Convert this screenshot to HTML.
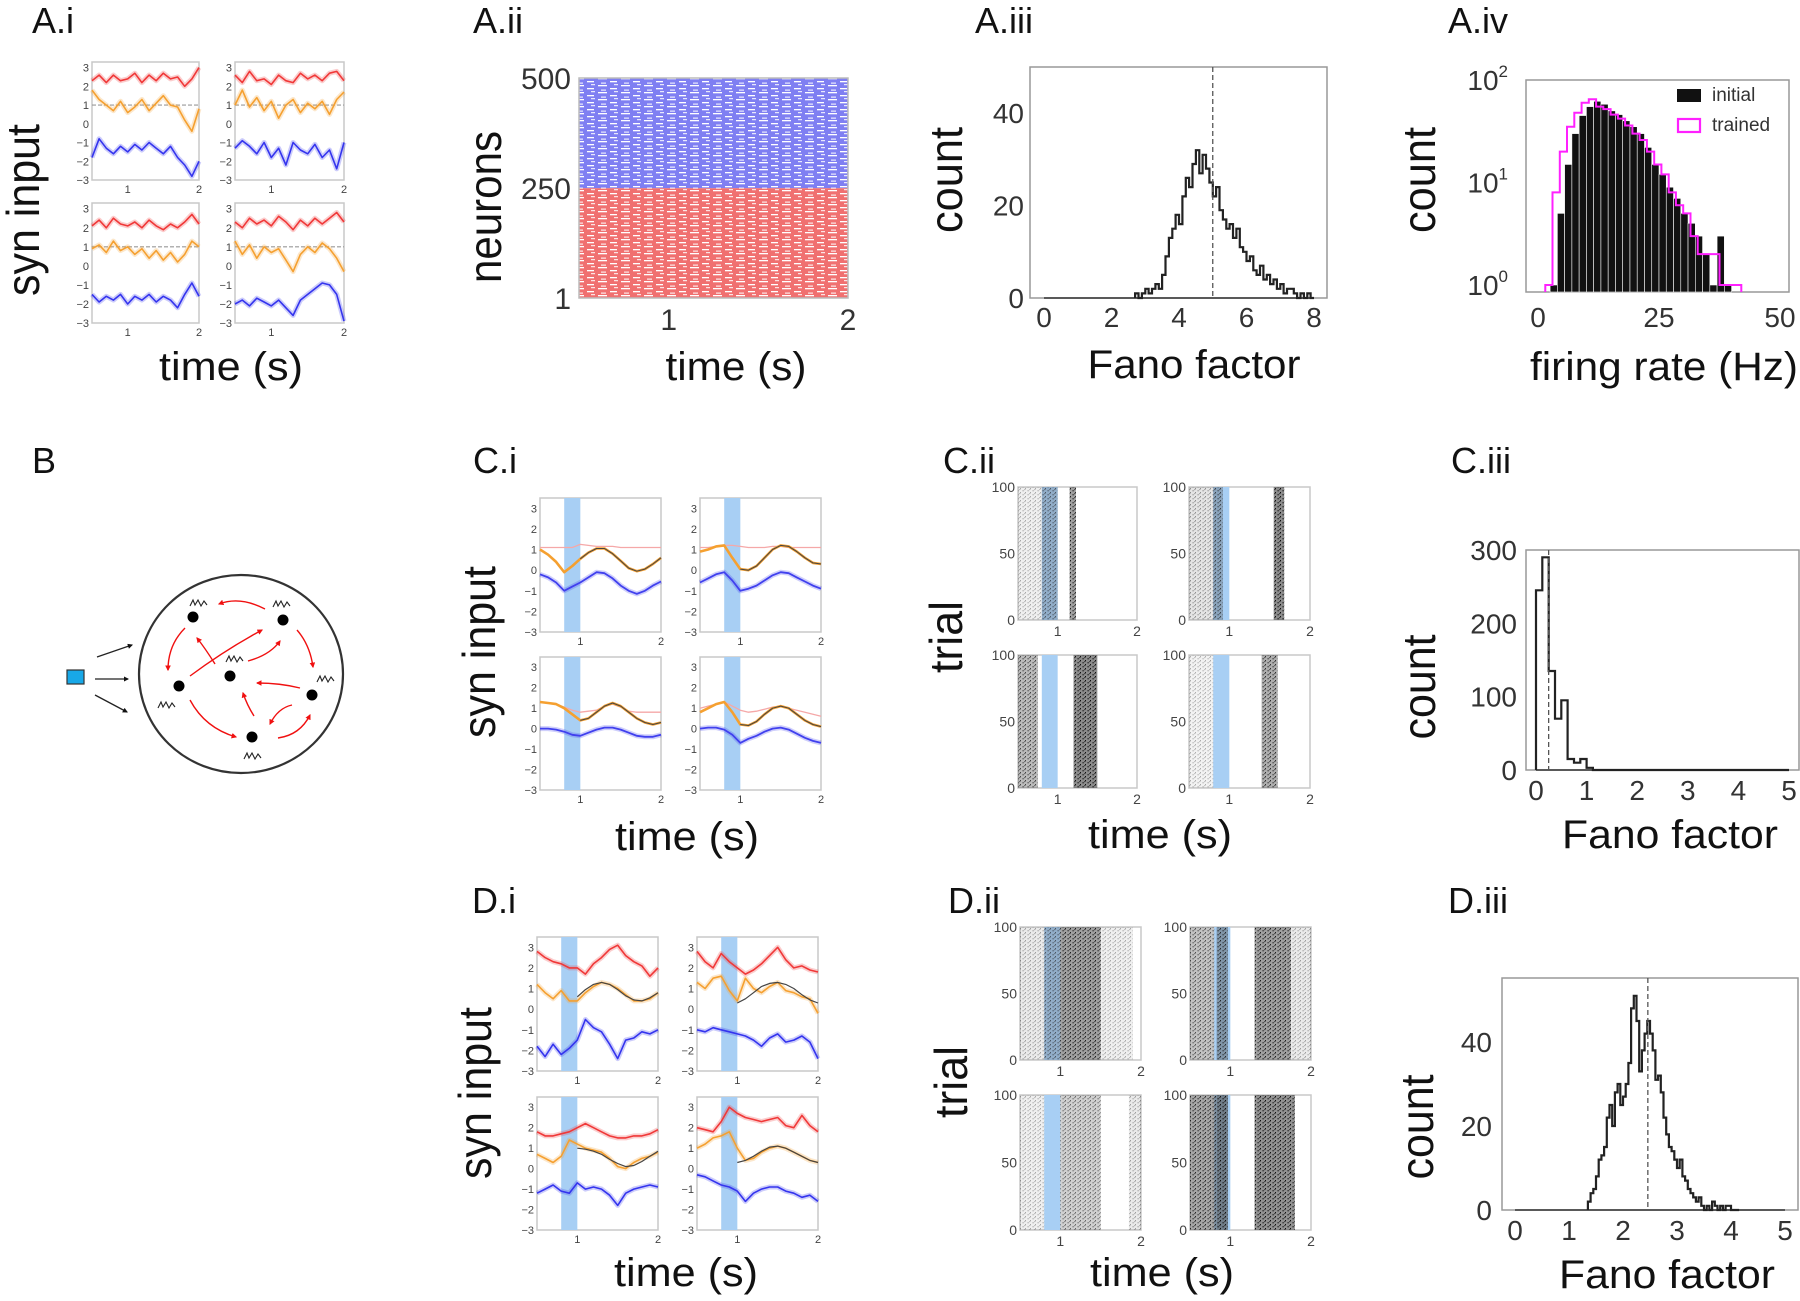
<!DOCTYPE html>
<html><head><meta charset="utf-8"><style>
html,body{margin:0;padding:0;background:#fff;}
svg{display:block;font-family:"Liberation Sans",Arial,sans-serif;}
</style></head><body>
<svg id="fig" width="1800" height="1301" viewBox="0 0 1800 1301" xmlns="http://www.w3.org/2000/svg">
<defs>
<pattern id="dashW" width="23" height="7" patternUnits="userSpaceOnUse"><rect x="0" y="1" width="9" height="1.3" fill="#fff"/><rect x="12" y="4" width="7" height="1.3" fill="#fff"/><rect x="3" y="5.6" width="5" height="1" fill="#fff"/><rect x="16" y="0.2" width="4" height="1" fill="#fff"/></pattern>
<pattern id="spk" width="5" height="4" patternUnits="userSpaceOnUse"><rect x="0" y="0" width="1" height="1.4" fill="#111"/><rect x="2.6" y="2" width="1" height="1.4" fill="#111"/><rect x="4" y="1" width="0.8" height="1.2" fill="#333"/></pattern>
<marker id="arR" viewBox="0 0 10 10" refX="8" refY="5" markerWidth="4" markerHeight="4" orient="auto"><path d="M0,0 L10,5 L0,10 z" fill="#f01010"/></marker>
<marker id="arK" viewBox="0 0 10 10" refX="8" refY="5" markerWidth="4" markerHeight="4" orient="auto"><path d="M0,0 L10,5 L0,10 z" fill="#111"/></marker>
</defs>
</svg>
<script>
// ---------- data ----------
const tsTimes = [0.5,0.6,0.7,0.8,0.9,1.0,1.1,1.2,1.3,1.4,1.5,1.6,1.7,1.8,1.9,2.0];
const targetTimes = [1.0,1.1,1.2,1.3,1.4,1.5,1.6,1.7,1.8,1.9,2.0];
const yTicksTS = [-3,-2,-1,0,1,2,3];
const xTicksTS = [1,2];
// A.i
const aiRedTL=[2.3,2.6,2.2,2.6,2.3,2.4,2.7,2.2,2.6,2.3,2.7,2.4,2.5,2.0,2.4,3.0];
const aiOrgTL=[1.8,1.3,1.0,0.7,1.2,0.6,0.9,1.3,0.7,1.1,1.5,1.0,0.9,0.2,-0.4,0.8];
const aiBluTL=[-1.8,-0.8,-1.3,-1.6,-1.2,-1.5,-1.1,-1.4,-1.0,-1.3,-1.6,-1.2,-1.8,-2.2,-2.8,-2.0];
const aiRedTR=[2.6,2.2,2.8,2.3,2.4,2.1,2.6,2.3,2.2,2.7,2.4,2.6,2.3,2.7,2.8,2.3];
const aiOrgTR=[1.0,1.8,0.9,1.4,0.7,1.2,0.3,1.0,1.3,0.6,1.1,0.8,1.2,0.5,1.3,1.7];
const aiBluTR=[-1.3,-0.9,-1.2,-1.6,-1.0,-1.8,-1.3,-2.2,-1.0,-1.4,-1.6,-1.1,-1.8,-1.4,-2.4,-1.0];
const aiRedBL=[2.1,2.4,2.0,2.5,2.2,2.1,2.3,2.0,2.4,2.1,1.9,2.2,2.0,2.3,2.7,2.2];
const aiOrgBL=[0.9,1.1,0.7,1.3,0.8,1.0,0.6,0.9,0.4,0.8,0.3,0.7,0.2,0.6,1.3,1.0];
const aiBluBL=[-1.5,-1.9,-1.6,-1.8,-1.5,-2.0,-1.6,-1.8,-1.5,-1.9,-1.6,-1.8,-2.2,-1.5,-0.9,-1.6];
const aiRedBR=[2.3,2.0,2.5,2.2,2.4,2.1,2.6,2.3,1.9,2.4,2.1,2.5,2.2,2.5,2.8,2.3];
const aiOrgBR=[1.3,0.6,1.1,0.4,1.0,0.7,0.9,0.3,-0.3,0.6,1.0,0.7,1.2,0.9,0.4,-0.3];
const aiBluBR=[-2.0,-1.8,-2.1,-1.7,-1.9,-2.1,-1.8,-2.2,-2.6,-1.8,-1.5,-1.2,-0.9,-1.0,-1.5,-2.9];
// C.i
const ciOrgTL=[1.0,0.75,0.4,-0.1,0.2,0.55,0.85,1.05,1.05,0.8,0.45,0.1,-0.05,0.05,0.3,0.6];
const ciBluTL=[-0.2,-0.35,-0.6,-1.0,-0.8,-0.6,-0.35,-0.1,-0.15,-0.4,-0.75,-1.0,-1.15,-1.0,-0.75,-0.55];
const ciPnkTL=[1.1,1.1,1.1,1.1,1.1,1.25,1.2,1.15,1.15,1.15,1.1,1.1,1.1,1.1,1.1,1.1];
const ciTgtTL=[0.55,0.85,1.05,1.05,0.8,0.45,0.1,-0.05,0.05,0.3,0.6];
const ciOrgTR=[0.9,1.0,1.15,1.2,0.6,0.05,0.0,0.2,0.6,1.0,1.2,1.15,0.9,0.6,0.35,0.3];
const ciBluTR=[-0.6,-0.4,-0.2,-0.1,-0.5,-1.0,-0.9,-0.75,-0.5,-0.25,-0.1,-0.15,-0.35,-0.55,-0.75,-0.9];
const ciPnkTR=[1.1,1.1,1.15,1.2,1.2,1.15,1.1,1.1,1.1,1.15,1.15,1.1,1.1,1.1,1.1,1.1];
const ciTgtTR=[0.05,0.0,0.2,0.6,1.0,1.2,1.15,0.9,0.6,0.35,0.3];
const ciOrgBL=[1.3,1.25,1.2,1.0,0.7,0.4,0.5,0.8,1.1,1.25,1.1,0.8,0.5,0.3,0.2,0.3];
const ciBluBL=[0.0,0.0,-0.05,-0.15,-0.3,-0.35,-0.2,-0.05,0.05,0.05,-0.05,-0.2,-0.35,-0.4,-0.4,-0.3];
const ciPnkBL=[1.3,1.25,1.2,1.05,0.9,0.8,0.85,0.9,1.1,1.2,1.05,0.85,0.8,0.8,0.8,0.8];
const ciTgtBL=[0.4,0.5,0.8,1.1,1.25,1.1,0.8,0.5,0.3,0.2,0.3];
const ciOrgBR=[0.8,1.0,1.2,1.3,0.8,0.2,0.15,0.35,0.7,1.0,1.1,1.0,0.7,0.4,0.2,0.1];
const ciBluBR=[0.0,0.05,0.05,-0.05,-0.3,-0.7,-0.5,-0.35,-0.15,0.0,0.05,-0.05,-0.25,-0.45,-0.6,-0.7];
const ciPnkBR=[1.0,1.1,1.2,1.3,1.1,0.9,0.8,0.85,0.95,1.05,1.1,1.0,0.9,0.8,0.7,0.6];
const ciTgtBR=[0.2,0.15,0.35,0.7,1.0,1.1,1.0,0.7,0.4,0.2,0.1];
// D.i
const diRedTL=[2.8,2.5,2.3,2.2,2.0,2.0,1.7,2.2,2.5,2.9,3.1,2.6,2.3,2.1,1.6,2.0];
const diOrgTL=[1.2,0.8,0.5,0.9,0.4,0.4,0.8,1.1,1.3,1.2,1.0,0.7,0.4,0.4,0.5,0.8];
const diBluTL=[-1.8,-2.3,-1.7,-2.2,-1.9,-1.5,-0.5,-0.9,-1.1,-1.7,-2.4,-1.5,-1.4,-1.1,-1.2,-1.0];
const diTgtTL=[0.6,0.95,1.2,1.3,1.2,0.95,0.65,0.45,0.4,0.55,0.8];
const diRedTR=[2.8,2.3,2.0,2.7,2.3,2.0,1.7,1.9,2.2,2.6,3.0,2.4,2.0,2.1,1.9,1.8];
const diOrgTR=[1.3,1.0,1.5,1.6,0.9,0.4,1.5,1.0,0.8,1.1,1.3,0.9,0.8,0.6,0.5,-0.2];
const diBluTR=[-1.0,-1.1,-0.9,-1.0,-1.1,-1.2,-1.3,-1.5,-1.8,-1.4,-1.2,-1.6,-1.5,-1.3,-1.6,-2.4];
const diTgtTR=[0.3,0.5,0.8,1.1,1.25,1.3,1.2,1.0,0.7,0.45,0.3];
const diRedBL=[1.8,1.6,1.6,1.7,1.8,2.0,2.2,2.0,1.8,1.6,1.5,1.5,1.6,1.6,1.7,1.9];
const diOrgBL=[0.7,0.5,0.3,0.6,1.4,1.2,1.0,0.9,0.8,0.5,0.1,0.0,0.3,0.5,0.6,0.8];
const diBluBL=[-1.2,-1.0,-0.8,-1.1,-1.2,-0.7,-1.0,-0.9,-1.0,-1.3,-1.8,-1.2,-1.0,-0.9,-0.8,-0.9];
const diTgtBL=[1.0,0.95,0.85,0.7,0.45,0.25,0.1,0.15,0.35,0.6,0.85];
const diRedBR=[2.0,1.9,1.8,2.3,3.0,2.7,2.5,2.4,2.3,2.4,2.5,2.1,2.0,2.6,2.1,1.8];
const diOrgBR=[1.0,1.2,1.5,1.6,1.8,1.0,0.4,0.5,0.8,1.0,1.1,1.0,0.8,0.6,0.4,0.3];
const diBluBR=[-0.3,-0.4,-0.6,-0.8,-0.9,-1.1,-1.6,-1.2,-1.0,-0.9,-0.9,-1.1,-1.2,-1.4,-1.3,-1.6];
const diTgtBR=[0.3,0.4,0.6,0.85,1.05,1.1,1.0,0.8,0.6,0.4,0.3];
// A.iii histogram (bin width 0.1 from 2.7)
const aiiiStart=2.7, aiiiWidth=0.1;
const aiiiCounts=[1,0,1,2,1,2,3,2,5,9,13,15,18,16,22,26,24,29,32,27,31,28,25,22,24,19,17,15,16,13,15,11,10,8,9,6,5,7,4,5,3,4,2,3,1,2,2,1,0,1,0,1,0];
const aiiiMean=5.0;
const aiiiYTicks=[0,20,40], aiiiXTicks=[0,2,4,6,8];
// A.iv histograms
const aivInitStart=2.5, aivTrainStart=1.5, aivWidth=1.5;
const aivInitial=[1,5,15,30,45,55,62,58,50,46,40,35,30,22,15,12,9,7,5,4,3,2,1,3,1];
const aivTrained=[1,8,20,35,48,60,65,55,52,46,42,36,30,26,20,15,12,8,6,5,3,2,2,2,1,1,1];
const aivXTicks=[0,25,50], aivYExp=[0,1,2];
// C.iii
const ciiiStart=0, ciiiWidth=0.125;
const ciiiCounts=[245,290,135,70,95,15,10,15,3,0,0,0,0,0,0,0,0,0,0,0,0,0,0,0,0,0,0,0,0,0,0,0,0,0,0,0,0,0,0,0];
const ciiiMean=0.25;
const ciiiYTicks=[0,100,200,300], ciiiXTicks=[0,1,2,3,4,5];
// D.iii
const diiiStart=1.35, diiiWidth=0.05;
const diiiCounts=[2,4,5,8,12,13,15,22,25,20,28,30,25,27,30,35,48,51,45,33,38,42,45,42,38,31,32,28,22,18,15,14,12,10,12,8,7,5,4,3,2,3,1,0,1,0,2,1,0,1,0,1,1,0,0,0];
const diiiMean=2.46;
const diiiYTicks=[0,20,40], diiiXTicks=[0,1,2,3,4,5];
// rasters: segments [t0,t1,density]
const ciiTL=[[0.5,0.8,0.12],[0.8,1.0,0.35],[1.15,1.23,0.7]];
const ciiTR=[[0.5,0.8,0.2],[0.8,0.92,0.45],[1.55,1.68,0.85]];
const ciiBL=[[0.5,0.75,0.5],[1.2,1.5,0.85]];
const ciiBR=[[0.5,0.8,0.1],[1.4,1.6,0.6]];
const diiTL=[[0.5,0.8,0.15],[0.8,1.0,0.35],[1.0,1.5,0.7],[1.5,1.9,0.12]];
const diiTR=[[0.5,0.8,0.45],[0.83,0.97,0.6],[1.3,1.75,0.7],[1.75,2.0,0.15]];
const diiBL=[[0.5,0.8,0.12],[1.0,1.5,0.35],[1.85,2.0,0.15]];
const diiBR=[[0.5,0.83,0.65],[0.83,0.97,0.85],[1.3,1.8,0.8]];
const stimBand=[0.8,1.0];
const rasterYTicks=[0,50,100];

// ---------- helpers ----------
const NS="http://www.w3.org/2000/svg";
const svg=document.getElementById('fig');
function el(tag,attrs,parent){const e=document.createElementNS(NS,tag);for(const k in attrs)e.setAttribute(k,attrs[k]);(parent||svg).appendChild(e);return e;}
function lin(d0,d1,r0,r1){return v=>r0+(v-d0)/(d1-d0)*(r1-r0);}
function txt(x,y,s,size,anchor,parent,extra){const t=el('text',Object.assign({x:x,y:y,'font-size':size,'text-anchor':anchor||'middle',fill:'#111'},extra||{}),parent);t.textContent=s;return t;}

function panelLabel(x,y,s){const t=txt(x,y,s,36,'start');

}
function xLabel(cx,y,s,len){const t=txt(cx,y,s,40,'middle',svg,{textLength:len,lengthAdjust:'spacingAndGlyphs'});

}
function yLabel(cx,cy,s,len){const t=txt(0,0,s,46,'middle',svg,{textLength:len,lengthAdjust:'spacingAndGlyphs',transform:'translate('+cx+','+cy+') rotate(-90)','dominant-baseline':'central'});

}

function tsPanel(name,x0,x1,y0,y1,yhi,traces,band,thresh){
  const g=el('g',{});
  
  
  const X=lin(0.5,2,x0,x1), Y=lin(-3,yhi,y1,y0);
  el('rect',{x:x0,y:y0,width:x1-x0,height:y1-y0,fill:'#fff',stroke:'#c8c8c8','stroke-width':1.5},g);
  if(band){const b=el('rect',{x:X(band[0]),y:y0,width:X(band[1])-X(band[0]),height:y1-y0,fill:'#a8cff4'},g);
    
    }
  if(thresh!==undefined){el('line',{x1:x0,x2:x1,y1:Y(thresh),y2:Y(thresh),stroke:'#999','stroke-width':1.2,'stroke-dasharray':'4,2'},g);}
  traces.forEach(tr=>{
    const pts=tr.v.map((v,i)=>X(tr.t[i]).toFixed(1)+','+Y(v).toFixed(1)).join(' ');
    if(tr.fuzz){el('polyline',{points:pts,fill:'none',stroke:tr.c,'stroke-width':5,'stroke-opacity':0.25,'stroke-linejoin':'round'},g);}
    const p=el('polyline',{points:pts,fill:'none',stroke:tr.c,'stroke-width':tr.w||1.6,'stroke-linejoin':'round'},g);
    
    
  });
  yTicksTS.forEach(v=>{txt(x0-3,Y(v)+4,String(v).replace('-','\u2212'),11,'end',g,{fill:'#444'});});
  xTicksTS.forEach(v=>{txt(X(v),y1+13,String(v),11,'middle',g,{fill:'#444'});});
}

function rasterPanel(name,x0,x1,y0,y1,segs,band){
  const g=el('g',{});
  
  
  const X=lin(0.5,2,x0,x1), Y=lin(0,100,y1,y0);
  el('rect',{x:x0,y:y0,width:x1-x0,height:y1-y0,fill:'#fff',stroke:'#c8c8c8','stroke-width':1.5},g);
  const b=el('rect',{x:X(band[0]),y:y0,width:X(band[1])-X(band[0]),height:y1-y0,fill:'#a8cff4'},g);
  
  
  segs.forEach(s=>{
    el('rect',{x:X(s[0]),y:Y(100),width:X(s[1])-X(s[0]),height:Y(0)-Y(100),fill:'#555','fill-opacity':s[2]*0.8},g);
    const r=el('rect',{x:X(s[0]),y:Y(100),width:X(s[1])-X(s[0]),height:Y(0)-Y(100),fill:'url(#spk)','fill-opacity':Math.min(1,s[2]+0.2)},g);
    
    
  });
  rasterYTicks.forEach(v=>{txt(x0-3,Y(v)+5,String(v),14,'end',g,{fill:'#444'});});
  xTicksTS.forEach(v=>{txt(X(v),y1+16,String(v),14,'middle',g,{fill:'#444'});});
}

function stepPath(start,width,counts,X,Y){
  let d='M'+X(start).toFixed(1)+','+Y(0).toFixed(1);
  counts.forEach((c,i)=>{d+=' L'+X(start+i*width).toFixed(1)+','+Y(c).toFixed(1)+' L'+X(start+(i+1)*width).toFixed(1)+','+Y(c).toFixed(1);});
  d+=' L'+X(start+counts.length*width).toFixed(1)+','+Y(0).toFixed(1);
  return d;
}

function histPanel(name,bx0,bx1,by0,by1,X,Y,start,width,counts,mean,yt,xt,tickSize,ylabRight,xlabY,flatFrom,flatTo){
  const g=el('g',{});
  
  
  el('rect',{x:bx0,y:by0,width:bx1-bx0,height:by1-by0,fill:'#fff',stroke:'#999','stroke-width':1.5},g);
  el('line',{x1:X(flatFrom),x2:X(flatTo),y1:Y(0),y2:Y(0),stroke:'#333','stroke-width':1.5},g);
  const p=el('path',{d:stepPath(start,width,counts,X,Y),fill:'none',stroke:'#222','stroke-width':2.2,'stroke-linejoin':'miter'},g);
  
  
  const m=el('line',{x1:X(mean),x2:X(mean),y1:by0,y2:by1,stroke:'#555','stroke-width':1.3,'stroke-dasharray':'5,3'},g);
  
  
  yt.forEach(v=>{txt(ylabRight,Y(v)+10,String(v),tickSize,'end',g,{fill:'#333'});});
  xt.forEach(v=>{txt(X(v),xlabY,String(v),tickSize,'middle',g,{fill:'#333'});});
}

// ---------- panel labels ----------
[[32,33,'A.i'],[473,33,'A.ii'],[975,33,'A.iii'],[1448,33,'A.iv'],[32,473,'B'],[473,473,'C.i'],[943,473,'C.ii'],[1451,473,'C.iii'],[472,913,'D.i'],[948,913,'D.ii'],[1448,913,'D.iii']].forEach(a=>panelLabel(a[0],a[1],a[2]));

// ---------- A.i ----------
const colsAI=[[92,199],[235,344]], rowsAI=[[62,180],[203,323]];
const aiSets=[[aiRedTL,aiOrgTL,aiBluTL],[aiRedTR,aiOrgTR,aiBluTR],[aiRedBL,aiOrgBL,aiBluBL],[aiRedBR,aiOrgBR,aiBluBR]];
aiSets.forEach((s,k)=>{const c=colsAI[k%2], r=rowsAI[Math.floor(k/2)];
  tsPanel('syn-input-subplot-ai-'+(k+1),c[0],c[1],r[0],r[1],3.3,[
    {v:s[0],t:tsTimes,c:'#f03838',n:'excitatory-trace',fuzz:true},
    {v:s[1],t:tsTimes,c:'#f5a030',n:'target-neuron-trace',fuzz:true},
    {v:s[2],t:tsTimes,c:'#3434ee',n:'inhibitory-trace',fuzz:true}],null,1);});
yLabel(23,210,'syn input',172);
xLabel(231,380,'time (s)',144);

// ---------- A.ii raster ----------
(function(){
  const g=el('g',{});
  
  
  const X=lin(0.5,2,579,848), Y=lin(1,500,298,78);
  const inh=el('rect',{x:579,y:Y(500),width:269,height:Y(250)-Y(500),fill:'#7f7ff2'},g);
  
  
  const exc=el('rect',{x:579,y:Y(250),width:269,height:Y(1)-Y(250),fill:'#f07070'},g);
  
  
  el('rect',{x:579,y:78,width:269,height:220,fill:'url(#dashW)'},g);
  el('rect',{x:579,y:78,width:269,height:220,fill:'none',stroke:'#bbb','stroke-width':1.5},g);
  [[500,'500'],[250,'250'],[1,'1']].forEach(a=>txt(571,Y(a[0])+11,a[1],30,'end',g,{fill:'#333'}));
  [1,2].forEach(v=>txt(X(v),330,String(v),30,'middle',g,{fill:'#333'}));
})();
yLabel(485,207,'neurons',152);
xLabel(736,380,'time (s)',141);

// ---------- A.iii ----------
histPanel('fano-histogram-initial',1030,1327,67,298,lin(0,8,1044,1314),lin(0,50,298,67),aiiiStart,aiiiWidth,aiiiCounts,aiiiMean,aiiiYTicks,aiiiXTicks,28,1024,327,0,8);
yLabel(946,180,'count',106);
xLabel(1194,378,'Fano factor',213);

// ---------- A.iv ----------
(function(){
  const g=el('g',{});
  
  
  const X=lin(0,50,1538,1780), L=lin(0,2,285,80);
  const Y=v=>L(Math.log10(Math.max(v,0.85)));
  el('rect',{x:1526,y:80,width:263,height:212,fill:'#fff',stroke:'#999','stroke-width':1.5},g);
  aivInitial.forEach((c,i)=>{
    const x0=X(aivInitStart+i*aivWidth), x1=X(aivInitStart+(i+1)*aivWidth);
    const r=el('rect',{x:x0,y:Y(c),width:x1-x0,height:292-Y(c),fill:'#111',stroke:'#fff','stroke-width':0.6},g);
    
    
  });
  let d='M'+X(aivTrainStart)+',292';
  aivTrained.forEach((c,i)=>{d+=' L'+X(aivTrainStart+i*aivWidth).toFixed(1)+','+Y(c).toFixed(1)+' L'+X(aivTrainStart+(i+1)*aivWidth).toFixed(1)+','+Y(c).toFixed(1);});
  d+=' L'+X(aivTrainStart+aivTrained.length*aivWidth).toFixed(1)+',292';
  const p=el('path',{d:d,fill:'none',stroke:'#ff20ff','stroke-width':2},g);
  
  
  aivYExp.forEach(e=>{const t=txt(1508,L(e)+10,'10',28,'end',g,{fill:'#333'});
    const s=el('tspan',{dy:-13,'font-size':17},t);s.textContent=String(e);});
  aivXTicks.forEach(v=>txt(X(v),327,String(v),28,'middle',g,{fill:'#333'}));
  const lg=el('g',{},g);
  
  
  el('rect',{x:1677,y:89,width:24,height:13,fill:'#111'},lg);
  txt(1712,101,'initial',19,'start',lg,{fill:'#333'});
  el('rect',{x:1678,y:119,width:22,height:13,fill:'none',stroke:'#ff20ff','stroke-width':2.2},lg);
  txt(1712,131,'trained',19,'start',lg,{fill:'#333'});
})();
yLabel(1419,180,'count',106);
xLabel(1664,380,'firing rate (Hz)',268);

// ---------- B diagram ----------
(function(){
  const g=el('g',{});
  
  
  el('ellipse',{cx:241,cy:674,rx:102,ry:99,fill:'none',stroke:'#333','stroke-width':2.2},g);
  const sq=el('rect',{x:67,y:670,width:17,height:14,fill:'#18a8e8',stroke:'#333','stroke-width':1.2},g);
  
  
  [[97,657,132,645],[95,679,128,679],[95,695,127,712]].forEach(a=>el('line',{x1:a[0],y1:a[1],x2:a[2],y2:a[3],stroke:'#222','stroke-width':1.3,'marker-end':'url(#arK)'},g));
  [[265,609,240,596,219,604],[185,628,168,645,168,670],[190,676,225,650,262,630],[215,664,205,648,197,638],[248,661,270,655,280,641],[297,630,310,645,313,667],[300,688,280,683,257,683],[254,716,247,705,243,693],[190,700,205,728,236,737],[292,705,278,708,270,724],[278,738,300,735,310,715]].forEach(a=>{
    const c=el('path',{d:'M'+a[0]+','+a[1]+' Q'+a[2]+','+a[3]+' '+a[4]+','+a[5],fill:'none',stroke:'#f01010','stroke-width':1.4,'marker-end':'url(#arR)'},g);
    
    
  });
  [[193,617],[283,620],[230,676],[179,686],[312,695],[252,737]].forEach(n=>{
    const c=el('circle',{cx:n[0],cy:n[1],r:5.5,fill:'#000'},g);
    
    
  });
  [[190,603],[273,604],[226,659],[158,705],[317,679],[244,756]].forEach(s=>{
    el('polyline',{points:(s[0])+','+(s[1]+3)+' '+(s[0]+3)+','+(s[1]-3)+' '+(s[0]+5)+','+(s[1]+2)+' '+(s[0]+8)+','+(s[1]-3)+' '+(s[0]+11)+','+(s[1]+3)+' '+(s[0]+14)+','+(s[1]-2)+' '+(s[0]+17)+','+(s[1]+2),fill:'none',stroke:'#222','stroke-width':1.1},g);
  });
})();

// ---------- C.i ----------
const colsCI=[[540,661],[700,821]], rowsCI=[[498,632],[657,790]];
const ciSets=[[ciPnkTL,ciOrgTL,ciBluTL,ciTgtTL],[ciPnkTR,ciOrgTR,ciBluTR,ciTgtTR],[ciPnkBL,ciOrgBL,ciBluBL,ciTgtBL],[ciPnkBR,ciOrgBR,ciBluBR,ciTgtBR]];
ciSets.forEach((s,k)=>{const c=colsCI[k%2], r=rowsCI[Math.floor(k/2)];
  tsPanel('syn-input-subplot-ci-'+(k+1),c[0],c[1],r[0],r[1],3.5,[
    {v:s[0],t:tsTimes,c:'#f5a8a8',n:'excitatory-trace',w:1.3},
    {v:s[1],t:tsTimes,c:'#f5a030',n:'target-neuron-trace',w:2.6},
    {v:s[2],t:tsTimes,c:'#4040ee',n:'inhibitory-trace',w:1.8,fuzz:true},
    {v:s[3],t:targetTimes,c:'#444',n:'target-signal',w:1}],stimBand);});
yLabel(479,652,'syn input',172);
xLabel(687,850,'time (s)',144);

// ---------- C.ii ----------
const colsCII=[[1018,1137],[1189,1310]], rowsCII=[[487,620],[655,788]];
[ciiTL,ciiTR,ciiBL,ciiBR].forEach((s,k)=>{const c=colsCII[k%2], r=rowsCII[Math.floor(k/2)];
  rasterPanel('trial-raster-cii-'+(k+1),c[0],c[1],r[0],r[1],s,stimBand);});
yLabel(946,637,'trial',72);
xLabel(1160,848,'time (s)',144);

// ---------- C.iii ----------
histPanel('fano-histogram-trained',1526,1799,550,770,lin(0,5,1536,1789),lin(0,300,770,550),ciiiStart,ciiiWidth,ciiiCounts,ciiiMean,ciiiYTicks,ciiiXTicks,28,1517,800,0,5);
yLabel(1419,687,'count',105);
xLabel(1670,848,'Fano factor',216);

// ---------- D.i ----------
const colsDI=[[537,658],[697,818]], rowsDI=[[937,1071],[1097,1230]];
const diSets=[[diRedTL,diOrgTL,diBluTL,diTgtTL],[diRedTR,diOrgTR,diBluTR,diTgtTR],[diRedBL,diOrgBL,diBluBL,diTgtBL],[diRedBR,diOrgBR,diBluBR,diTgtBR]];
diSets.forEach((s,k)=>{const c=colsDI[k%2], r=rowsDI[Math.floor(k/2)];
  tsPanel('syn-input-subplot-di-'+(k+1),c[0],c[1],r[0],r[1],3.5,[
    {v:s[0],t:tsTimes,c:'#f03838',n:'excitatory-trace',fuzz:true},
    {v:s[1],t:tsTimes,c:'#f5a030',n:'target-neuron-trace',fuzz:true},
    {v:s[2],t:tsTimes,c:'#3434ee',n:'inhibitory-trace',fuzz:true},
    {v:s[3],t:targetTimes,c:'#444',n:'target-signal',w:1.2}],stimBand);});
yLabel(475,1093,'syn input',172);
xLabel(686,1286,'time (s)',144);

// ---------- D.ii ----------
const colsDII=[[1020,1141],[1190,1311]], rowsDII=[[927,1060],[1095,1230]];
[diiTL,diiTR,diiBL,diiBR].forEach((s,k)=>{const c=colsDII[k%2], r=rowsDII[Math.floor(k/2)];
  rasterPanel('trial-raster-dii-'+(k+1),c[0],c[1],r[0],r[1],s,stimBand);});
yLabel(951,1082,'trial',72);
xLabel(1162,1286,'time (s)',144);

// ---------- D.iii ----------
histPanel('fano-histogram-noisy',1502,1798,978,1210,lin(0,5,1515,1785),lin(0,40,1210,1042),diiiStart,diiiWidth,diiiCounts,diiiMean,diiiYTicks,diiiXTicks,28,1492,1240,0,5);
yLabel(1417,1127,'count',105);
xLabel(1667,1288,'Fano factor',216);
</script>
</body></html>
